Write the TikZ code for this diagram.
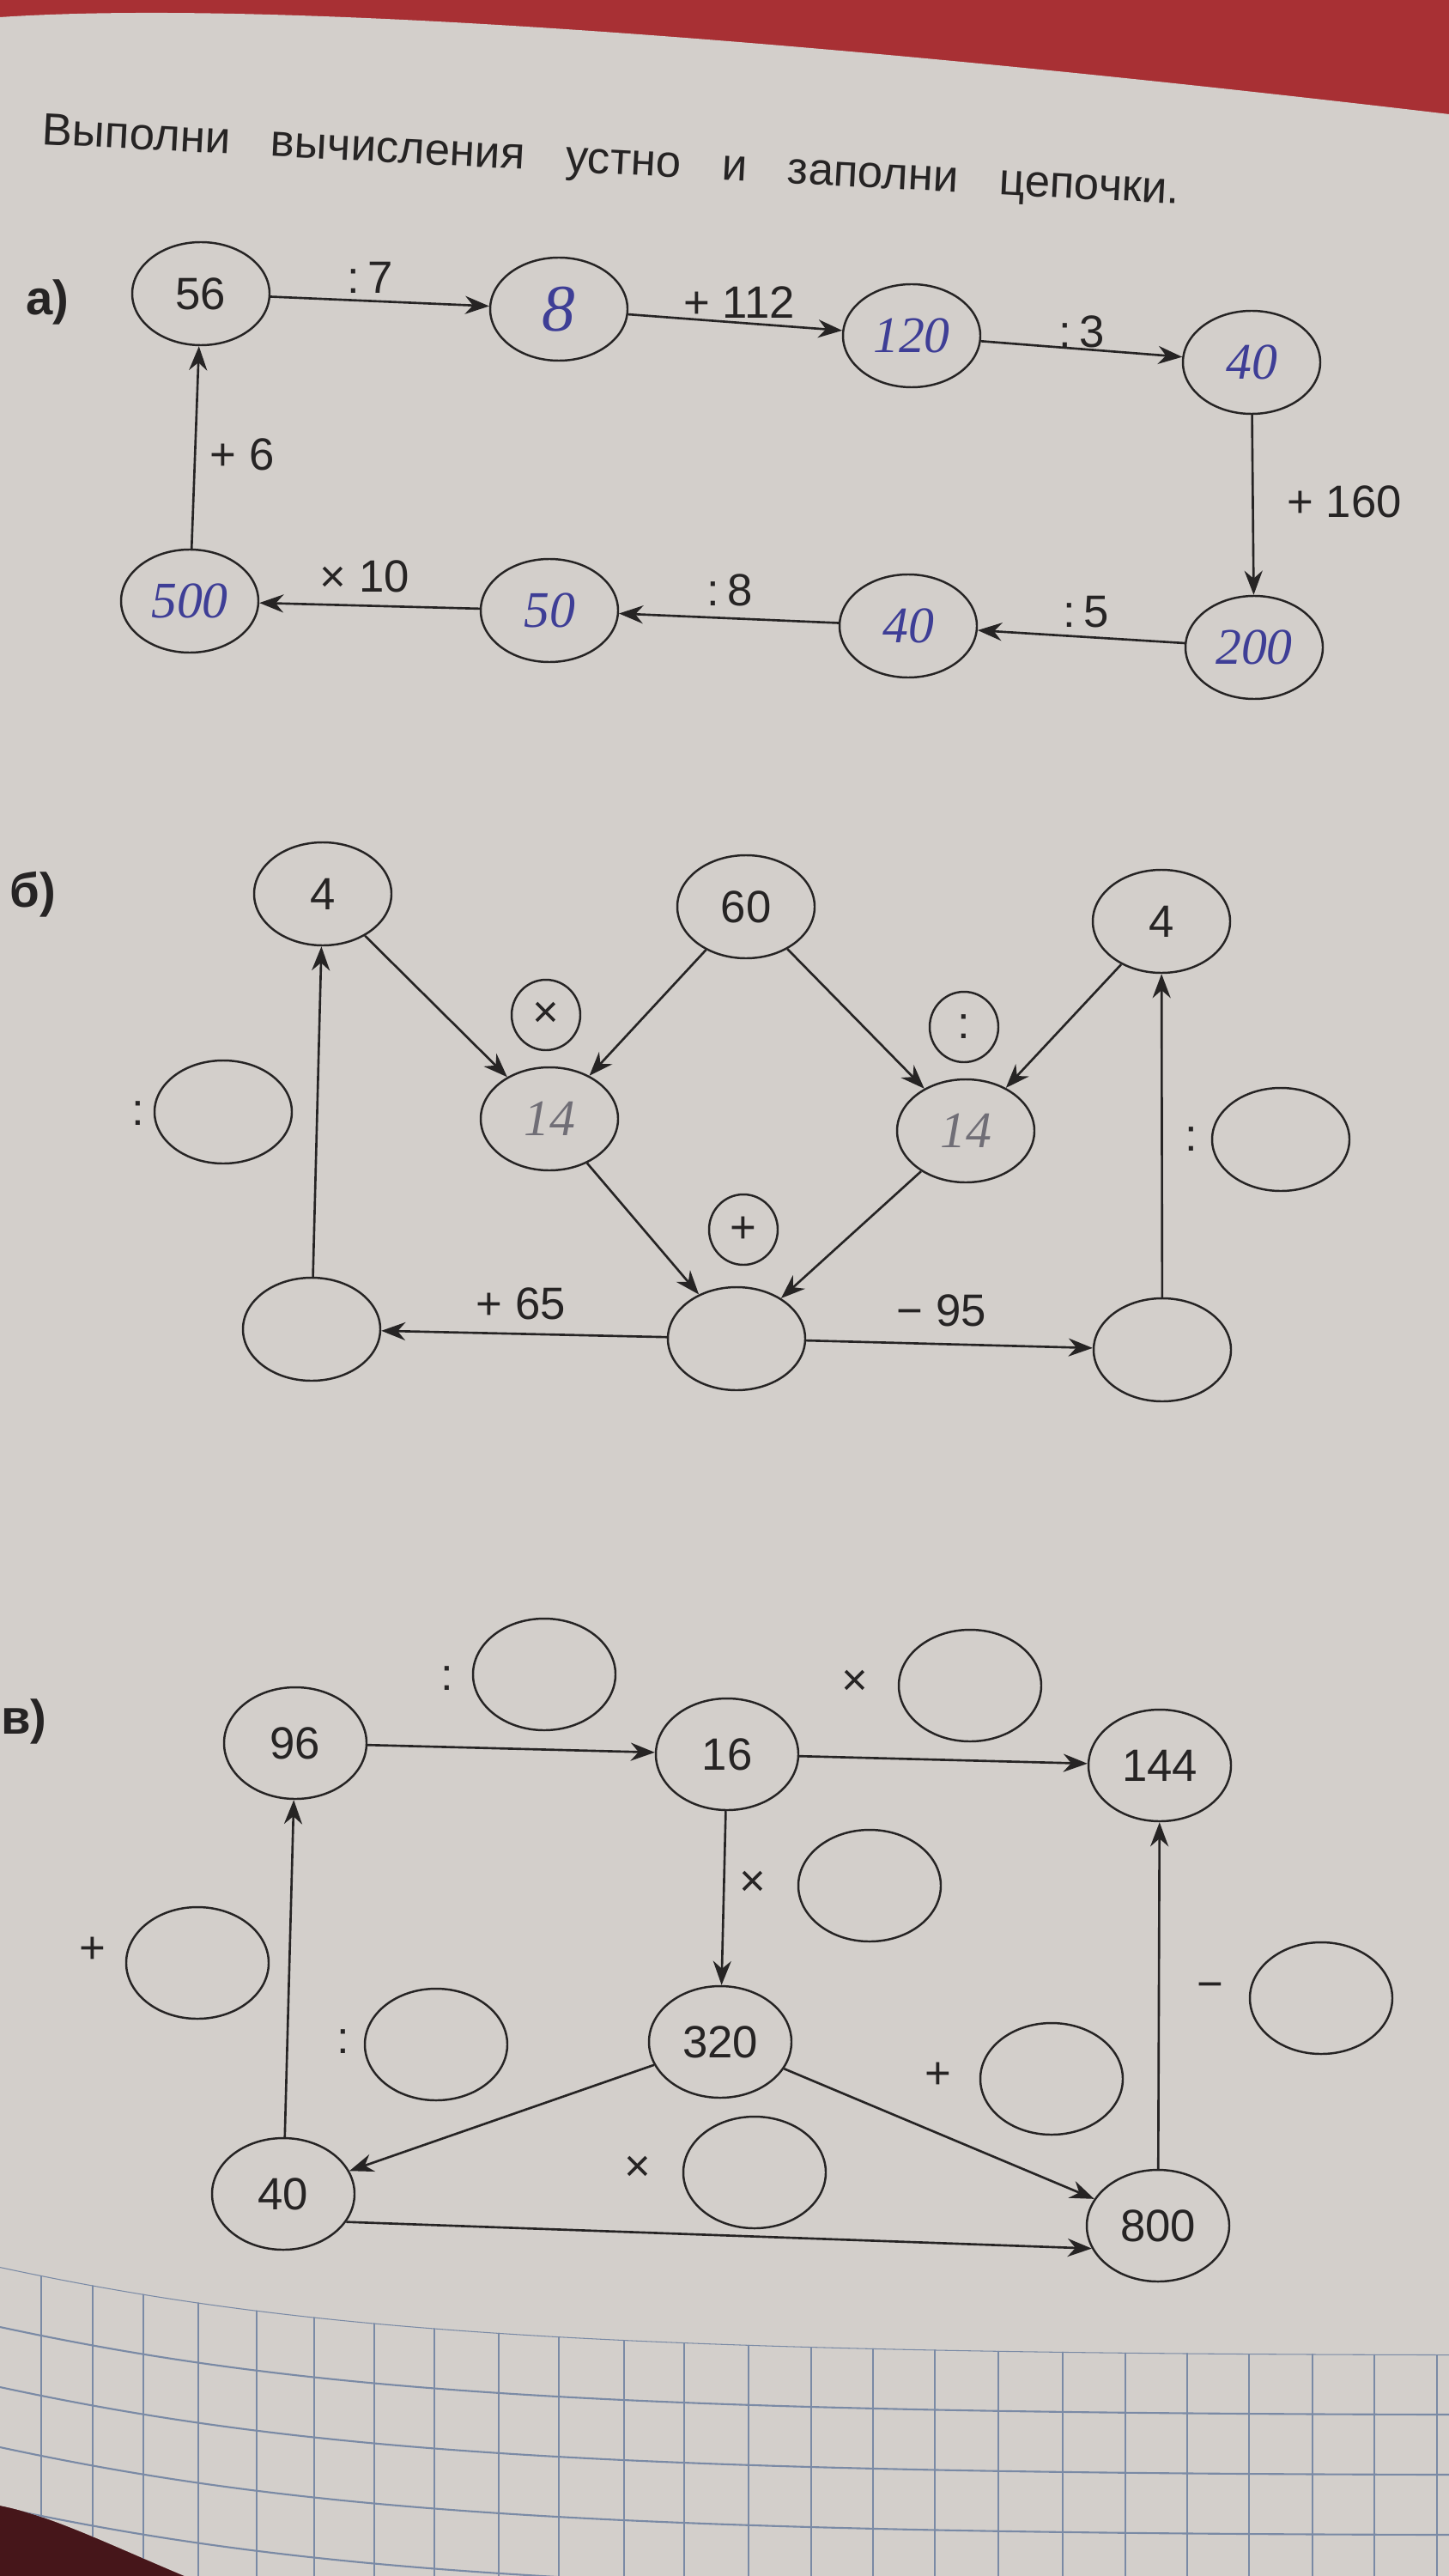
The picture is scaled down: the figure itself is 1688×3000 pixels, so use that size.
\documentclass[tikz,border=0pt]{standalone}
\usepackage{fontspec}
\setmainfont{Liberation Sans}
\newfontfamily\handfont{Liberation Serif}
\usetikzlibrary{positioning, arrows.meta, shapes.geometric}
\definecolor{paper}{RGB}{211,207,203}
\definecolor{tablecloth}{RGB}{168,48,52}
\definecolor{darkcloth}{RGB}{70,22,26}
\definecolor{ink}{RGB}{38,36,36}
\definecolor{pen}{RGB}{62,62,150}
\definecolor{pencil}{RGB}{112,110,118}
\definecolor{gridline}{RGB}{122,138,165}

\begin{document}
\begin{tikzpicture}[x=0.1mm, y=-0.1mm, font=\fontsize{15}{18}\selectfont, color=ink]
		% styles
		\tikzset{
			numnode/.style={ellipse, draw=ink, line width=0.7pt, minimum width=1.6cm, minimum height=1.2cm, inner sep=0pt},
			tallnode/.style={numnode, minimum width=1.66cm, minimum height=1.3cm},
			opnode/.style={ellipse, draw=ink, line width=0.7pt, minimum width=0.8cm, minimum height=0.82cm, inner sep=0pt},
			hand/.style={text=pen, font=\handfont\itshape\fontsize{17}{20}\selectfont},
			arrow/.style={-{Stealth[length=8pt, width=6pt]}, line width=0.75pt, draw=ink},
			partlabel/.style={font=\bfseries\fontsize{16}{18}\selectfont}
		}
		\useasboundingbox (0,0) rectangle (1688,3000);
		
		% background: cloth, page, squared paper
		\fill[tablecloth] (0,0) rectangle (1688,3000);
		\fill[darkcloth] (0,2880) rectangle (260,3000);
		\fill[paper] (0,20) .. controls (300,0) and (900,40) .. (1688,133) -- (1688,3000) -- (215,3000) .. controls (120,2960) and (60,2930) .. (0,2918) -- cycle;
		\begin{scope}
			\clip (0,2640) .. controls (350,2715) and (700,2740) .. (1688,2742) -- (1688,3000) -- (215,3000) .. controls (120,2960) and (60,2930) .. (0,2918) -- cycle;
			\foreach \gx in {48,108,167,231,299,366,436,506,581,651,727,797,872,945,1017,1089,1163,1238,1311,1383,1455,1529,1601,1674}
				\draw[gridline, line width=0.5pt] (\gx,2600) -- (\gx,3000);
			\foreach \gy in {0,70,...,420}
				\draw[gridline, line width=0.6pt] (0,2640+\gy) .. controls (350,2715+\gy) and (700,2740+\gy) .. (1688,2742+\gy);
		\end{scope}
		
		% title
		\node[anchor=base west, rotate=-3, inner sep=0pt] (title) at (48,168)
			{Выполни\hspace{0.9em}вычисления\hspace{0.9em}устно\hspace{0.9em}и\hspace{0.9em}заполни\hspace{0.9em}цепочки.};
		
		% a) chain
		\node[partlabel] (parta) at (55,352) {а)};
		\node[numnode] (a56) at (234,342) {56};
		\node[numnode, hand, font=\handfont\itshape\fontsize{22}{24}\selectfont] (a8) at (651,360) {8};
		\node[numnode, hand] (a120) at (1062,391) {120};
		\node[numnode, hand] (a40) at (1458,422) {40};
		\node[numnode, hand] (a200) at (1461,754) {200};
		\node[numnode, hand] (a40b) at (1058,729) {40};
		\node[numnode, hand] (a50) at (640,711) {50};
		\node[numnode, hand] (a500) at (221,700) {500};
		
		\draw[arrow] (a56) -- (a8);
		\draw[arrow] (a8) -- (a120);
		\draw[arrow] (a120) -- (a40);
		\draw[arrow] (a40) -- (a200);
		\draw[arrow] (a200) -- (a40b);
		\draw[arrow] (a40b) -- (a50);
		\draw[arrow] (a50) -- (a500);
		\draw[arrow] (a500) -- (a56);
		
		\node (opa1) at (431,323) {:\,7};
		\node (opa2) at (861,352) {+ 112};
		\node (opa3) at (1260,386) {:\,3};
		\node (opa4) at (1566,584) {+ 160};
		\node (opa5) at (1265,713) {:\,5};
		\node (opa6) at (850,687) {:\,8};
		\node (opa7) at (425,671) {× 10};
		\node (opa8) at (282,529) {+ 6};
		
		% b) chain
		\node[partlabel] (partb) at (38,1042) {б)};
		\node[numnode] (b4L) at (376,1041) {4};
		\node[numnode] (b60) at (869,1056) {60};
		\node[numnode] (b4R) at (1353,1073) {4};
		\node[opnode] (bmul) at (636,1182) {×};
		\node[opnode] (bdiv) at (1123,1196) {:};
		\node[numnode, hand, text=pencil] (b14L) at (640,1303) {14};
		\node[numnode, hand, text=pencil] (b14R) at (1125,1317) {14};
		\node[numnode] (bleft) at (260,1295) {};
		\node[numnode] (bright) at (1492,1327) {};
		\node[opnode] (badd) at (866,1432) {+};
		\node[numnode] (bBL) at (363,1548) {};
		\node[numnode] (bBM) at (858,1559) {};
		\node[numnode] (bBR) at (1354,1572) {};
		
		\draw[arrow] (b4L) -- (b14L);
		\draw[arrow] (b60) -- (b14L);
		\draw[arrow] (b60) -- (b14R);
		\draw[arrow] (b4R) -- (b14R);
		\draw[arrow] (b14L) -- (bBM);
		\draw[arrow] (b14R) -- (bBM);
		\draw[arrow] (bBM) -- (bBL);
		\draw[arrow] (bBM) -- (bBR);
		\draw[arrow] (bBL) -- (b4L);
		\draw[arrow] (bBR) -- (b4R);
		
		\node (opb1) at (161,1297) {:};
		\node (opb2) at (1388,1327) {:};
		\node (opb3) at (607,1518) {+ 65};
		\node (opb4) at (1097,1526) {− 95};
		
		% c) chain
		\node[partlabel] (partc) at (28,2005) {в)};
		\node[tallnode] (c96) at (344,2030) {96};
		\node[tallnode] (c16) at (847,2043) {16};
		\node[tallnode] (c144) at (1351,2056) {144};
		\node[tallnode] (c320) at (839,2378) {320};
		\node[tallnode] (c40) at (330,2555) {40};
		\node[tallnode] (c800) at (1349,2592) {800};
		
		\node[tallnode] (cdiv1) at (634,1950) {};
		\node[tallnode] (cmul1) at (1130,1963) {};
		\node[tallnode] (cmul2) at (1013,2196) {};
		\node[tallnode] (cadd1) at (230,2286) {};
		\node[tallnode] (cdiv2) at (508,2381) {};
		\node[tallnode] (csub) at (1539,2327) {};
		\node[tallnode] (cadd2) at (1225,2421) {};
		\node[tallnode] (cmul3) at (879,2530) {};
		
		\draw[arrow] (c96) -- (c16);
		\draw[arrow] (c16) -- (c144);
		\draw[arrow] (c16) -- (c320);
		\draw[arrow] (c320) -- (c40);
		\draw[arrow] (c320) -- (c800);
		\draw[arrow] (c40) -- (c96);
		\draw[arrow] (c40.-24) -- (c800.199);
		\draw[arrow] (c800) -- (c144);
		
		\node (opc1) at (521,1955) {:};
		\node (opc2) at (996,1960) {×};
		\node (opc3) at (877,2194) {×};
		\node (opc4) at (108,2271) {+};
		\node (opc5) at (400,2378) {:};
		\node (opc6) at (1410,2319) {−};
		\node (opc7) at (1093,2417) {+};
		\node (opc8) at (743,2526) {×};
		
	\end{tikzpicture}
\end{document}
